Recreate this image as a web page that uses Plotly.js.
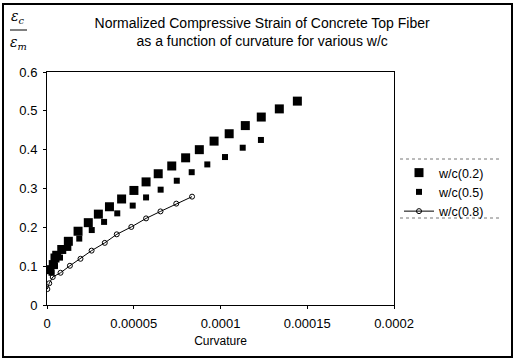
<!DOCTYPE html>
<html>
<head>
<meta charset="utf-8">
<script src="https://cdn.plot.ly/plotly-3.0.1.min.js"></script>
<style>html,body{margin:0;padding:0;background:#fff;}#chart{width:516px;height:361px;}</style>
</head>
<body>
<div id="chart"></div>
<script>
// Data
const curvature_wc02 = [0.0000017, 0.0000036, 0.0000046, 0.0000056, 0.0000085, 0.0000123, 0.0000179, 0.0000238, 0.0000296, 0.000036, 0.000043, 0.0000501, 0.0000571, 0.0000641, 0.0000719, 0.0000799, 0.0000878, 0.0000963, 0.000105, 0.0001143, 0.0001235, 0.0001339, 0.0001443];
const strain_wc02 = [0.091, 0.104, 0.121, 0.128, 0.143, 0.164, 0.190, 0.212, 0.234, 0.253, 0.273, 0.295, 0.317, 0.338, 0.358, 0.379, 0.400, 0.422, 0.441, 0.462, 0.484, 0.505, 0.525];

const curvature_wc05 = [0.0000026, 0.0000046, 0.0000075, 0.0000123, 0.0000186, 0.0000258, 0.0000329, 0.0000405, 0.0000494, 0.0000571, 0.0000655, 0.0000748, 0.0000834, 0.0000924, 0.0001026, 0.0001128, 0.0001233];
const strain_wc05 = [0.083, 0.101, 0.122, 0.147, 0.171, 0.193, 0.214, 0.236, 0.256, 0.277, 0.297, 0.320, 0.342, 0.362, 0.381, 0.405, 0.425];

const curvature_wc08 = [0.0000002, 0.0000013, 0.0000033, 0.0000078, 0.0000132, 0.0000193, 0.0000257, 0.0000333, 0.0000402, 0.0000486, 0.0000571, 0.0000654, 0.0000745, 0.0000836];
const strain_wc08 = [0.041, 0.056, 0.072, 0.083, 0.101, 0.119, 0.140, 0.160, 0.182, 0.201, 0.223, 0.241, 0.261, 0.279];

const seriesNames = ["w/c(0.2)", "w/c(0.5)", "w/c(0.8)"];
const xTickVals = [0, 0.00005, 0.0001, 0.00015, 0.0002];
const xTickText = ["0", "0.00005", "0.0001", "0.00015", "0.0002"];
const yTickVals = [0, 0.1, 0.2, 0.3, 0.4, 0.5, 0.6];
const yTickText = ["0", "0.1", "0.2", "0.3", "0.4", "0.5", "0.6"];

const FONT = "Liberation Sans, Arial, sans-serif";

const traces = [
  {x: curvature_wc02, y: strain_wc02, name: seriesNames[0], mode: "markers", type: "scatter",
   marker: {symbol: "square", size: 9, color: "#000"}},
  {x: curvature_wc05, y: strain_wc05, name: seriesNames[1], mode: "markers", type: "scatter",
   marker: {symbol: "square", size: 6, color: "#000"}},
  {x: curvature_wc08, y: strain_wc08, name: seriesNames[2], mode: "lines+markers", type: "scatter",
   line: {color: "#000", width: 1},
   marker: {symbol: "circle-open", size: 5, color: "#000", line: {width: 1}}}
];

const L = 47, R = 394, T = 72, B = 305;
const W = R - L, H = B - T;
function px(xp){ return (xp - L) / W; }
function py(yp){ return (B - yp) / H; }

const layout = {
  width: 516, height: 361,
  margin: {l: L, r: 516 - R, t: T, b: 361 - B, pad: 0},
  paper_bgcolor: "#fff", plot_bgcolor: "#fff",
  font: {family: FONT, size: 13, color: "#000"},
  showlegend: true,
  title: {
    text: "Normalized Compressive Strain of Concrete Top Fiber<br>as a function of curvature for various w/c",
    font: {family: FONT, size: 14, color: "#000"},
    xref: "container", yref: "container", x: 0.508, y: 1 - 27.5 / 361, xanchor: "center", yanchor: "middle"
  },
  xaxis: {
    range: [0, 0.0002], tickvals: xTickVals, ticktext: xTickText,
    showgrid: false, zeroline: false, showline: true, linecolor: "#000", linewidth: 1, mirror: true,
    ticks: "outside", ticklen: 3, tickcolor: "#000", ticklabelstandoff: 3,
    tickfont: {family: FONT, size: 13, color: "#000"},
    title: {text: "Curvature", font: {family: FONT, size: 12, color: "#000"}, standoff: 7}
  },
  yaxis: {
    range: [0, 0.6], tickvals: yTickVals, ticktext: yTickText,
    showgrid: false, zeroline: false, showline: true, linecolor: "#000", linewidth: 1, mirror: true,
    ticks: "outside", ticklen: 3, tickcolor: "#000", ticklabelstandoff: 3,
    tickfont: {family: FONT, size: 13, color: "#000"}
  },
  legend: {
    x: px(399), y: py(158), xanchor: "left", yanchor: "top",
    bgcolor: "rgba(0,0,0,0)", borderwidth: 0,
    font: {family: FONT, size: 12.5, color: "#000"},
    tracegroupgap: 0, itemwidth: 30
  },
  shapes: [
    {type: "rect", xref: "paper", yref: "paper", x0: px(3), x1: px(512), y0: py(357), y1: py(4),
     line: {color: "#000", width: 2}},
    {type: "line", xref: "paper", yref: "paper", x0: px(400), x1: px(500), y0: py(159), y1: py(159),
     line: {color: "#777", width: 1, dash: "dot"}},
    {type: "line", xref: "paper", yref: "paper", x0: px(400), x1: px(500), y0: py(218), y1: py(218),
     line: {color: "#777", width: 1, dash: "dot"}},
    {type: "line", xref: "paper", yref: "paper", x0: px(10), x1: px(27), y0: py(30), y1: py(30),
     line: {color: "#000", width: 1}}
  ],
  annotations: [
    {xref: "paper", yref: "paper", x: px(18), y: py(17), xanchor: "center", yanchor: "middle",
     text: "<i>ε<sub>c</sub></i>", showarrow: false, font: {family: "DejaVu Serif, serif", size: 14, color: "#000"}},
    {xref: "paper", yref: "paper", x: px(18), y: py(43), xanchor: "center", yanchor: "middle",
     text: "<i>ε<sub>m</sub></i>", showarrow: false, font: {family: "DejaVu Serif, serif", size: 14, color: "#000"}}
  ]
};

Plotly.newPlot("chart", traces, layout, {displayModeBar: false, staticPlot: true});
</script>
</body>
</html>
